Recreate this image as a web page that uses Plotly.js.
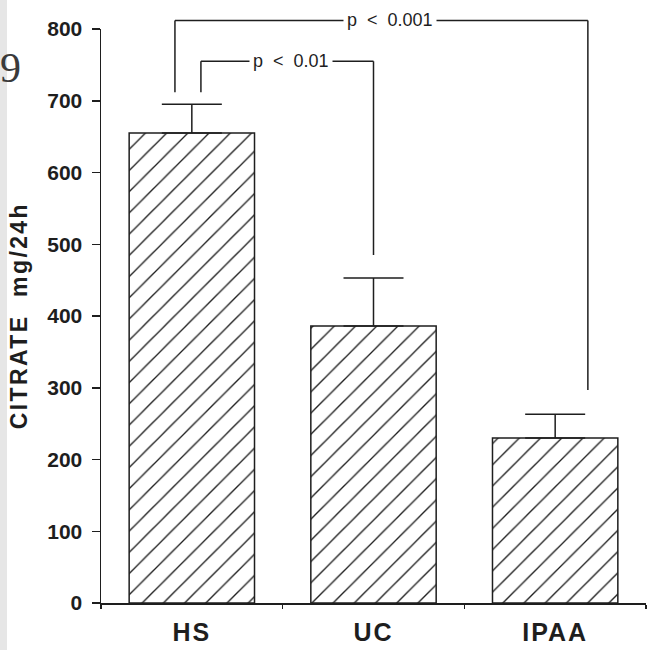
<!DOCTYPE html>
<html>
<head>
<meta charset="utf-8">
<script src="https://cdn.plot.ly/plotly-3.0.1.min.js"></script>
<style>
  html, body { margin: 0; padding: 0; background: #ffffff; }
  #chart { width: 651px; height: 650px; }
</style>
</head>
<body>
<div id="chart"></div>
<script>
// ---- data ----
var categories = ["HS", "UC", "IPAA"];
var citrateMeans = [655, 386, 230];
var citrateErrors = [40, 67, 33];
var yTickValues = [0, 100, 200, 300, 400, 500, 600, 700, 800];
var yTickLabels = ["0", "100", "200", "300", "400", "500", "600", "700", "800"];
var yTitleText = "CITRATE\u00A0\u00A0mg/24h";

// significance brackets (x in category units, heights in mg/24h)
var bracketLabels = ["p\u00A0\u00A0<\u00A0\u00A00.001", "p\u00A0\u00A0<\u00A0\u00A00.01"];
var bracketLeftX = [-0.093, 0.05];
var bracketRightX = [2.18, 1.0];
var bracketTopY = [812, 755];
var bracketLeftBottomY = [712, 712];
var bracketRightBottomY = [297, 485];
var bracketLabelX = [1.09, 0.546];
var figureNumber = "9";

var yMax = 800;
var fontFam = "Liberation Sans, Arial, Helvetica, sans-serif";
var ink = "#1e1e1e";

function py(v) { return v / yMax; }

var shapes = [];
var annotations = [];
for (var i = 0; i < bracketLabels.length; i++) {
  var lineStyle = { color: ink, width: 1.5 };
  shapes.push({ type: "line", xref: "x", yref: "paper", x0: bracketLeftX[i], x1: bracketLeftX[i], y0: py(bracketLeftBottomY[i]), y1: py(bracketTopY[i]), line: lineStyle, layer: "above" });
  shapes.push({ type: "line", xref: "x", yref: "paper", x0: bracketLeftX[i], x1: bracketRightX[i], y0: py(bracketTopY[i]), y1: py(bracketTopY[i]), line: lineStyle, layer: "above" });
  shapes.push({ type: "line", xref: "x", yref: "paper", x0: bracketRightX[i], x1: bracketRightX[i], y0: py(bracketTopY[i]), y1: py(bracketRightBottomY[i]), line: lineStyle, layer: "above" });
  annotations.push({
    text: bracketLabels[i], xref: "x", yref: "paper", x: bracketLabelX[i], y: py(bracketTopY[i]),
    xanchor: "center", yanchor: "middle", showarrow: false,
    bgcolor: "#ffffff", borderpad: 3,
    font: { family: fontFam, size: 18, color: ink }
  });
}

// y-axis title
annotations.push({
  text: yTitleText, xref: "paper", yref: "paper", x: -0.150, y: 0.5,
  xanchor: "center", yanchor: "middle", textangle: -90, showarrow: false,
  font: { family: fontFam, size: 23, color: ink, weight: 700 }
});
// figure number from the page
annotations.push({
  text: figureNumber, xref: "paper", yref: "paper", x: -0.166, y: 0.975,
  xanchor: "center", yanchor: "top", showarrow: false,
  font: { family: "Liberation Serif, DejaVu Serif, serif", size: 42, color: "#3a3a3a" }
});

// scanned page edge
shapes.push({ type: "rect", xref: "paper", yref: "paper", x0: -101/545, x1: -94/545, y0: -47/574, y1: 1 + 29/574, fillcolor: "#e6e6e6", line: { width: 0 }, layer: "below" });

var trace = {
  type: "bar",
  x: categories,
  y: citrateMeans,
  width: 0.69,
  marker: {
    color: "#ffffff",
    line: { color: ink, width: 1.5 },
    pattern: { shape: "/", size: 15, solidity: 0.09, fgcolor: ink, bgcolor: "#ffffff", fillmode: "replace" }
  },
  error_y: {
    type: "data", symmetric: false, array: citrateErrors, arrayminus: [0, 0, 0],
    color: ink, thickness: 1.5, width: 30
  },
  hoverinfo: "skip"
};

var layout = {
  width: 651, height: 650,
  margin: { l: 101, r: 5, t: 29, b: 47 },
  paper_bgcolor: "#ffffff", plot_bgcolor: "#ffffff",
  showlegend: false,
  font: { family: fontFam, color: ink },
  xaxis: {
    type: "category", range: [-0.5, 2.5],
    showline: true, linecolor: ink, linewidth: 1.5,
    ticks: "outside", ticklen: 4, tickwidth: 1.5, tickcolor: ink, tickson: "boundaries",
    ticklabelstandoff: 6,
    showgrid: false, zeroline: false,
    tickfont: { family: fontFam, size: 25, color: ink, weight: 700 }
  },
  yaxis: {
    range: [0, yMax],
    tickvals: yTickValues, ticktext: yTickLabels,
    showline: true, linecolor: ink, linewidth: 1.5,
    ticks: "outside", ticklen: 8, tickwidth: 1.5, tickcolor: ink,
    ticklabelstandoff: 5,
    showgrid: false, zeroline: false,
    tickfont: { family: fontFam, size: 21, color: ink, weight: 700 }
  },
  shapes: shapes,
  annotations: annotations
};

Plotly.newPlot("chart", [trace], layout, { staticPlot: true, displayModeBar: false }).then(function (gd) {
  gd.querySelectorAll(".xtick text").forEach(function (t) { t.style.letterSpacing = "2px"; });
  gd.querySelectorAll(".annotation-text").forEach(function (t) {
    if (t.textContent.indexOf("CITRATE") === 0) { t.style.letterSpacing = "2.4px"; }
  });
});
</script>
</body>
</html>
